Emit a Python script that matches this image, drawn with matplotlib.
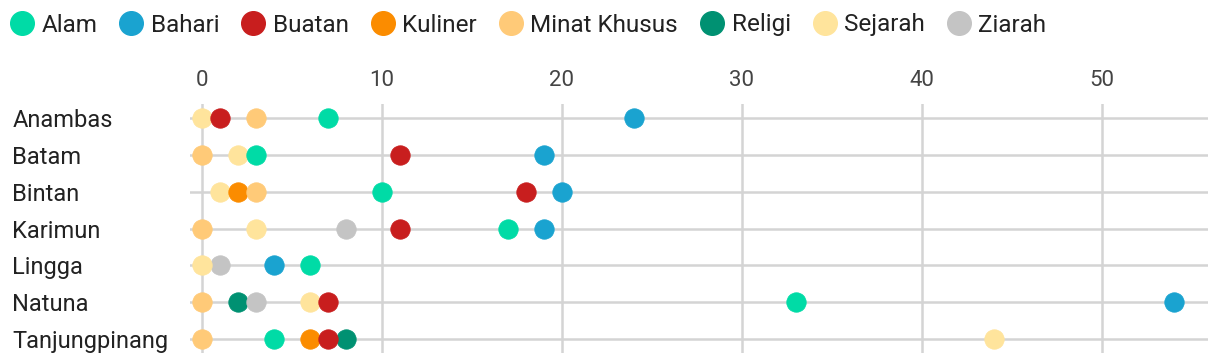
import numpy as np
import matplotlib
matplotlib.use("Agg")
import matplotlib.pyplot as plt
from matplotlib.lines import Line2D

plt.rcParams['font.family'] = ['Roboto', 'DejaVu Sans']

regions = ['Anambas', 'Batam', 'Bintan', 'Karimun', 'Lingga', 'Natuna', 'Tanjungpinang']
nan = np.nan

# jumlah objek wisata per kategori (NaN = tidak ada)
alam         = [7,   3,   10,  17,  6,   33,  4]
bahari       = [24,  19,  20,  19,  4,   54,  nan]
buatan       = [1,   11,  18,  11,  nan, 7,   7]
kuliner      = [nan, nan, 2,   nan, nan, nan, 6]
minat_khusus = [3,   0,   3,   0,   nan, 0,   0]
religi       = [nan, nan, nan, nan, nan, 2,   8]
sejarah      = [0,   2,   1,   3,   0,   6,   44]
ziarah       = [nan, nan, nan, 8,   1,   3,   nan]

series = [
    ('Alam', alam, '#00dba6', 8),
    ('Bahari', bahari, '#1aa3d0', 1),
    ('Buatan', buatan, '#c81e1e', 7),
    ('Kuliner', kuliner, '#fb8c00', 5),
    ('Minat Khusus', minat_khusus, '#ffca78', 6),
    ('Religi', religi, '#009172', 2),
    ('Sejarah', sejarah, '#ffe49c', 4),
    ('Ziarah', ziarah, '#c4c4c4', 3),
]

fig = plt.figure(figsize=(12.2, 3.64), dpi=100)
ax = fig.add_axes([190 / 1220, 1 - 353 / 364, 1018 / 1220, 249 / 364])

y = np.arange(len(regions))
for name, vals, col, z in series:
    ax.scatter(vals, y, s=195, color=col, edgecolors=col, linewidths=0.6,
               zorder=z + 2, clip_on=False)

ax.set_xlim(-0.67, 55.9)
ax.set_ylim(6.38, -0.38)
ax.set_xticks([0, 10, 20, 30, 40, 50])
ax.set_yticks(y)
ax.set_yticklabels(regions, ha='left')
ax.xaxis.tick_top()
ax.tick_params(axis='x', length=0, pad=9, labelsize=16, labelcolor='#444444')
ax.tick_params(axis='y', length=0, pad=128, labelsize=17, labelcolor='#222222')
ax.grid(True, color='#d4d4d4', linewidth=1.8, zorder=0)
ax.set_axisbelow(True)
for s in ax.spines.values():
    s.set_visible(False)

handles = [Line2D([], [], marker='o', linestyle='none', markersize=17,
                  markerfacecolor=c, markeredgecolor=c) for _, _, c, _ in series]
fig.legend(handles, [n for n, _, _, _ in series], loc='center left',
           bbox_to_anchor=(-0.006, 1 - 25 / 364), ncol=8, frameon=False, fontsize=17.5,
           labelcolor='#222222', handlelength=1.0, handletextpad=0.3,
           columnspacing=0.9, borderaxespad=0.3)

fig.savefig('out.png', dpi=100)
